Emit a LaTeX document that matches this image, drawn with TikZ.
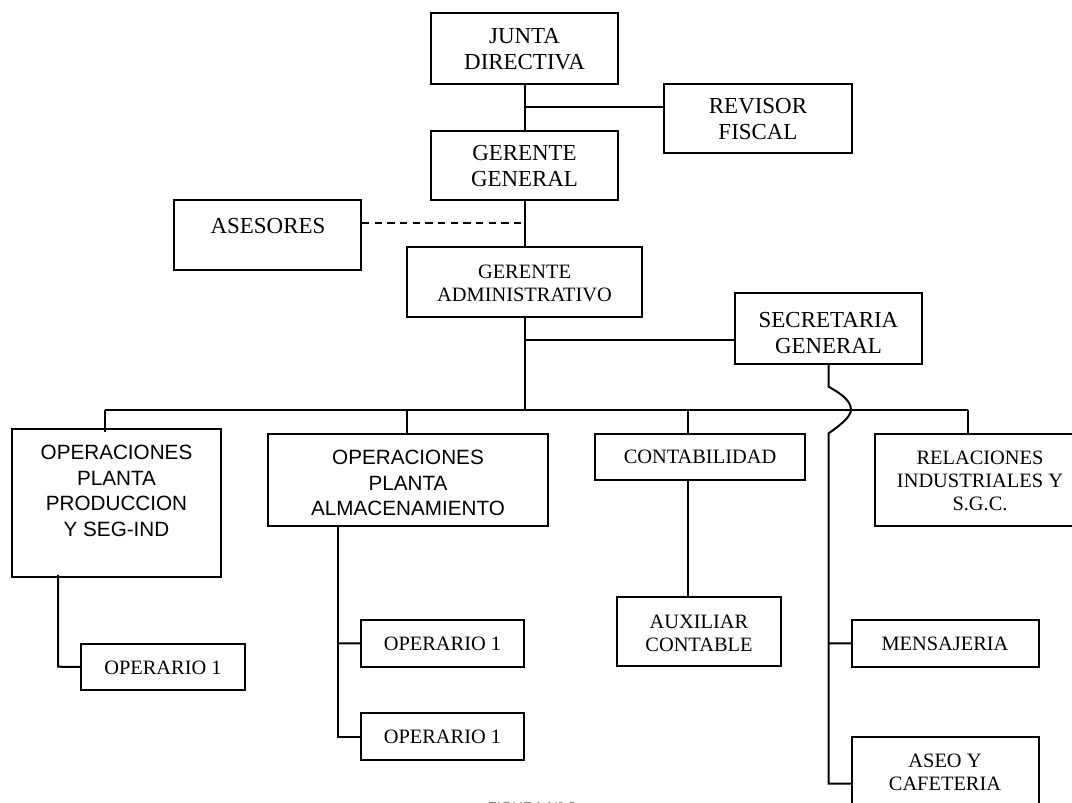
\documentclass[tikz,border=0pt]{standalone}
\usepackage{fontspec}
\setmainfont{Liberation Serif}
\newfontfamily\arialf{Liberation Sans}
\newcommand\mkbox[5]{\node[box, minimum width={(#4-#2)*0.75pt}, minimum height={(#5-#3)*0.75pt}] (#1) at ({(#2+#4)/2},{(#3+#5)/2}) {};}
\begin{document}
\begin{tikzpicture}[x=0.75pt,y=-0.75pt,
 box/.style={draw, line width=1.5pt, inner sep=0pt},
 big/.style={font=\fontsize{17.2}{20}\selectfont, align=center, inner sep=0pt},
 sml/.style={font=\fontsize{15.3}{17.3}\selectfont, align=center, inner sep=0pt},
 snf/.style={font=\arialf\fontsize{15.5}{19.2}\selectfont, align=center, inner sep=0pt},
 ln/.style={line width=1.5pt}]
\useasboundingbox (0,0) rectangle (1072,803);
% boxes
\mkbox{junta}{431}{13}{618}{83.5}
\mkbox{revisor}{664}{83.5}{852}{153}
\mkbox{gg}{431}{130.6}{618}{200}
\mkbox{ases}{174}{200}{361}{270}
\mkbox{ga}{407}{247}{642}{316.5}
\mkbox{sec}{735}{293.4}{922}{363.6}
\mkbox{opprod}{12}{429}{221}{576.6}
\mkbox{opalm}{268}{433.7}{548}{526.4}
\mkbox{cont}{595}{433.7}{805}{480}
\mkbox{rel}{875}{433.7}{1085}{526.4}
\mkbox{aux}{617}{596.6}{781}{666}
\mkbox{opl}{81}{643.7}{245}{690.3}
\mkbox{opm1}{361}{620}{524}{666.7}
\mkbox{opm2}{361}{713}{524}{760.4}
\mkbox{mens}{852}{620}{1038.5}{666.7}
\mkbox{ase}{852}{737}{1038.5}{807}
% texts
\node[big] (junta-t) at (524.5,49) {JUNTA\\DIRECTIVA};
\node[big] (revisor-t) at (758,119) {REVISOR\\FISCAL};
\node[big] (gg-t) at (524.5,166) {GERENTE\\GENERAL};
\node[big, anchor=base] (ases-t) at (268,233) {ASESORES};
\node[sml] (ga-t) at (524.5,283) {GERENTE\\ADMINISTRATIVO};
\node[big] (sec-t) at (828.5,333) {SECRETARIA\\GENERAL};
\node[snf] (opprod-t) at (116.5,491) {OPERACIONES\\PLANTA\\PRODUCCION\\Y SEG-IND};
\node[snf] (opalm-t) at (408,483) {OPERACIONES\\PLANTA\\ALMACENAMIENTO};
\node[sml, anchor=base] (cont-t) at (700,463) {CONTABILIDAD};
\node[sml] (rel-t) at (980,481) {RELACIONES\\INDUSTRIALES Y\\S.G.C.};
\node[sml] (aux-t) at (699,633) {AUXILIAR\\CONTABLE};
\node[sml, anchor=base] (opl-t) at (163,674) {OPERARIO 1};
\node[sml, anchor=base] (opm1-t) at (442.5,650) {OPERARIO 1};
\node[sml, anchor=base] (opm2-t) at (442.5,743.5) {OPERARIO 1};
\node[sml, anchor=base] (mens-t) at (945,650) {MENSAJERIA};
\node[sml] (ase-t) at (945,772) {ASEO Y\\CAFETERIA};
\node[font=\arialf\fontsize{11}{13}\selectfont, text=gray, anchor=north, inner sep=0pt] (cap) at (532,801.5) {FIGURA N\textdegree{} 2};
% connectors
\draw[ln] (junta) -- (gg);
\draw[ln] (junta.south |- 0,107) -- (revisor.west |- 0,107);
\draw[ln] (gg) -- (ga);
\coordinate (dj) at (524.5,222.8);
\draw[line width=1.2pt, dash pattern=on 5.5pt off 4pt] (ases.east |- dj) -- (dj);
\coordinate (busL) at (105,410);
\coordinate (busR) at (968,410);
\draw[ln] (ga) -- (ga.south |- busL);
\draw[ln] (ga.south |- 0,340) -- (sec.west |- 0,340);
\draw[ln] (busL) -- (busR);
\draw[ln] (busL) -- ([yshift=-3pt]opprod.north -| busL);
\draw[ln] (407,410) -- (opalm.north -| 407,0);
\draw[ln] (688,410) -- (cont.north -| 688,0);
\draw[ln] (busR) -- (rel.north -| busR);
\coordinate (sx) at (828.6,0);
\draw[ln] (sec.south -| sx) -- (828.6,386.7) .. controls (836,391) and (851,399) .. (851,409.5) .. controls (851,418) and (836,428) .. (828.6,433.3) -- (828.6,783.5) -- (ase.west |- 0,783.5);
\draw[ln] (828.6,643.3) -- (mens.west);
\draw[ln] (opalm.south -| 337.7,0) -- (337.7,736.7) -- (opm2.west);
\draw[ln] (337.7,643.3) -- (opm1.west);
\draw[ln] ([yshift=2pt]opprod.south -| 58,0) -- (58,666.7) -- (opl.west);
\draw[ln] (cont.south -| 688,0) -- (aux.north -| 688,0);
\end{tikzpicture}
\end{document}
